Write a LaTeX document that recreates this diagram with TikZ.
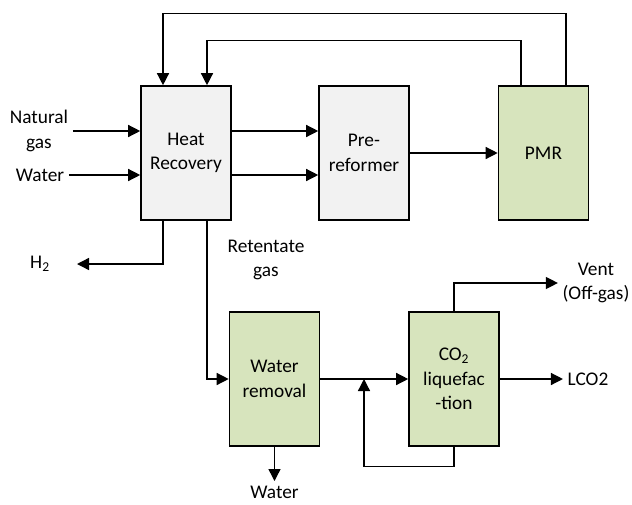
\documentclass[tikz,border=0pt]{standalone}
\usepackage{fontspec}
\setmainfont{Carlito}
\usepackage{tikz}
\usetikzlibrary{arrows.meta, positioning, calc}
\definecolor{boxgrey}{HTML}{F2F2F2}
\definecolor{boxgreen}{HTML}{D7E4BD}

\begin{document}
\begin{tikzpicture}[
    x=0.75pt, y=-0.75pt,
    box/.style={
        rectangle,
        draw,
        line width=1.2pt,
        fill=boxgrey,
        align=center,
        minimum width=67.5pt,
        minimum height=100.5pt,
        font=\fontsize{14.5}{18.5}\selectfont
    },
    greenbox/.style={
        box,
        fill=boxgreen
    },
    label/.style={
        align=center,
        font=\fontsize{14.5}{18.5}\selectfont
    },
    arrow/.style={-{Triangle[length=9pt,width=9pt]}, line width=1pt}
]
\useasboundingbox (0,0) rectangle (632,504);

% --- 上段 ---
\node[box]      (heat) at (186,153)   {Heat\\Recovery};
\node[box]      (pre)  at (364,153)   {Pre-\\reformer};
\node[greenbox] (pmr)  at (543.5,153) {PMR};

% --- 下段 ---
\node[greenbox] (wrem) at (274.5,379) {Water\\removal};
\node[greenbox] (liq)  at (454,379)   {CO\textsubscript{2}\\liquefac\\-tion};

% --- 入出力ラベル ---
\node[label] (natgas)  at (39,131)  {Natural\\gas};
\node[label] (waterin) at (40,175)  {Water};
\node[label] (hyd)     at (40,264)  {H\textsubscript{2}};
\node[label] (reten)   at (266,260) {Retentate\\gas};
\node[label] (vent)    at (596,283) {Vent\\(Off-gas)};
\node[label] (lco)     at (588,379) {LCO2};
\node[label] (waterout) at (274.5,492) {Water};

\coordinate (hydend) at (77,264);
\coordinate (junc)   at (364,379);

% --- 原料 → Heat Recovery ---
\draw[arrow] (natgas.east) -- (natgas -| heat.west);
\draw[arrow] (waterin.east) -- (waterin -| heat.west);

% --- Heat Recovery → Pre-reformer → PMR ---
\draw[arrow] (heat.east |- natgas) -- (pre.west |- natgas);
\draw[arrow] (heat.east |- waterin) -- (pre.west |- waterin);
\draw[arrow] (pre.east) -- (pmr.west);

% --- PMR → Heat Recovery（戻り2本） ---
\draw[arrow] ($(pmr.north)+(22.5,0)$) -- ++(0,-72) -| ($(heat.north)+(-23,0)$);
\draw[arrow] ($(pmr.north)+(-22.5,0)$) -- ++(0,-45) -| ($(heat.north)+(21,0)$);

% --- Heat Recovery → H2 / Retentate ---
\draw[arrow] ($(heat.south)+(-23,0)$) |- (hydend);
\draw[arrow] ($(heat.south)+(21,0)$) |- (wrem.west);

% --- Water removal → CO2 liquefaction ---
\draw[arrow] (wrem.east) -- (liq.west);
\draw[arrow] (wrem.south) -- (waterout.north);
\draw[arrow] (liq.south) -- ++(0,20) -| (junc);

% --- CO2 liquefaction → 製品 ---
\draw[arrow] (liq.east) -- (lco.west);
\draw[arrow] (liq.north) |- (vent.west);

\end{tikzpicture}
\end{document}
